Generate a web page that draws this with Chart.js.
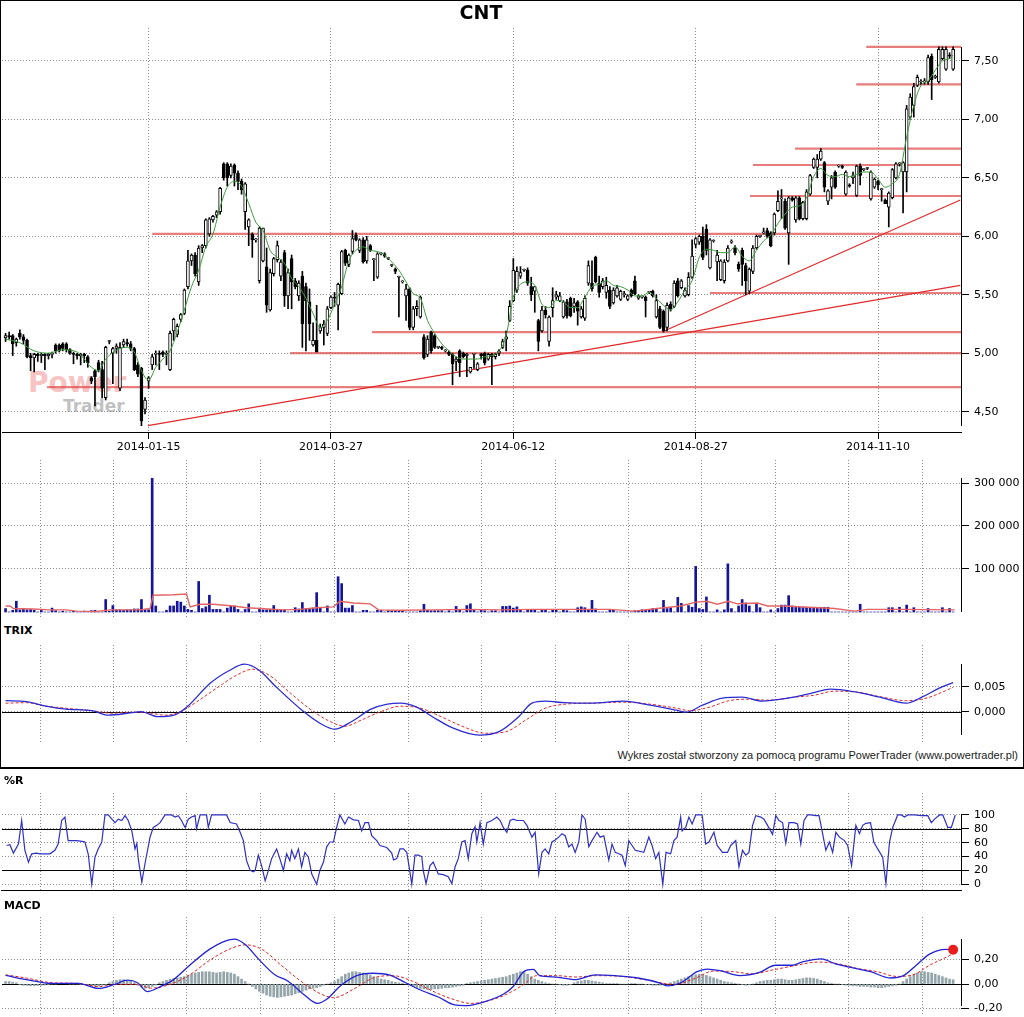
<!DOCTYPE html>
<html>
<head>
<meta charset="utf-8">
<title>CNT</title>
<script src="https://cdn.jsdelivr.net/npm/chart.js@4.4.1/dist/chart.umd.min.js"></script>
<style>
  html, body { margin: 0; padding: 0; background: #fff; }
  #page { position: relative; width: 1024px; height: 1017px; overflow: hidden; font-family: "DejaVu Sans", Verdana, sans-serif; }
  canvas { position: absolute; left: 0; z-index: 2; }
  .txt { position: absolute; z-index: 3; color: #000; white-space: nowrap; }
  .lab { font-weight: bold; font-size: 11px; left: 4px; }
  #frame { position: absolute; left: 0; top: 0; width: 1022px; height: 767px; border: 1px solid #000; border-bottom: none; z-index: 1; }
  #sep { position: absolute; left: 0; top: 767px; width: 1024px; height: 2px; background: #000; z-index: 3; }
  .wm { position: absolute; z-index: 1; font-weight: bold; white-space: nowrap; }
</style>
</head>
<body>
<div id="page">
  <div id="frame"></div>
  <div class="wm" style="left:28px;top:366px;font-size:28px;color:rgba(240,120,120,0.45);">Power</div>
  <div class="wm" style="left:63px;top:396px;font-size:17px;color:rgba(140,140,140,0.55);">Trader</div>
  <div class="txt" style="left:0;width:962px;text-align:center;top:1px;font-size:19px;font-weight:bold;">CNT</div>
  <div class="txt lab" style="top:624px;">TRIX</div>
  <div class="txt lab" style="top:774px;">%R</div>
  <div class="txt lab" style="top:899px;">MACD</div>
  <div class="txt" style="right:6px;top:749px;font-size:11px;font-family:'Liberation Sans',Arial,sans-serif;color:#222;">Wykres został stworzony za pomocą programu PowerTrader (www.powertrader.pl)</div>
  <div id="sep"></div>
  <canvas id="cPrice"></canvas>
  <canvas id="cVol"></canvas>
  <canvas id="cTrix"></canvas>
  <canvas id="cWr"></canvas>
  <canvas id="cMacd"></canvas>
</div>
<script>
// x axis: one unit per session, index 0 = first candle
const X_MIN = -1, X_MAX = 267.2;
const dateLabels = ['2014-01-15', '2014-03-27', '2014-06-12', '2014-08-27', '2014-11-10'];
const dateIdx = [40, 91, 142, 193, 244];
const lowerGrid = [9.8, 30.3, 50.7, 71.4, 92.1, 112.6, 133, 153.7, 174.1, 194.5, 215.2, 235.6, 256.3];

const opens = [
  5.13,5.15,5.15,5.09,5.17,5.14,5.11,4.98,4.96,4.99, 4.98,4.99,4.98,4.99,5.07,5.07,5.08,5.08,5.03,5.00,
  4.99,4.98,4.99,4.97,4.79,4.85,4.92,4.86,4.62,5.10, 5.00,5.04,4.70,5.07,5.09,5.08,5.04,4.90,4.87,4.52,
  4.76,4.90,4.99,5.00,5.01,4.99,4.86,5.19,5.16,5.29, 5.34,5.57,5.79,5.84,5.61,5.90,5.92,6.02,6.14,6.18,
  6.21,6.62,6.62,6.52,6.61,6.54,6.47,6.21,6.08,6.02, 5.97,5.62,5.79,5.74,5.37,5.68,5.80,5.66,5.86,5.49,
  5.81,5.62,5.49,5.66,5.57,5.44,5.07,5.11,5.19,5.22, 5.17,5.39,5.48,5.41,5.51,5.88,5.76,5.87,6.01,5.88,
  5.97,5.79,5.92,5.80,5.65,5.85,5.85,5.81,5.75,5.72, 5.65,5.61,5.49,5.55,5.22,5.38,5.31,5.14,4.99,5.18,
  5.15,5.05,5.05,5.02,5.01,4.99,4.93,5.02,5.00,4.98, 4.84,4.99,4.86,4.99,5.00,4.95,4.99,4.97,5.00,5.05,
  5.12,5.28,5.45,5.54,5.66,5.71,5.71,5.57,5.53,5.28, 5.19,5.37,5.10,5.39,5.48,5.45,5.31,5.44,5.47,5.40,
  5.44,5.31,5.30,5.60,5.60,5.82,5.60,5.57,5.52,5.54, 5.43,5.49,5.46,5.50,5.46,5.54,5.62,5.47,5.48,5.48,
  5.52,5.53,5.31,5.38,5.36,5.22,5.42,5.40,5.62,5.56, 5.49,5.50,5.65,5.93,5.95,6.00,6.06,5.73,5.96,5.78,
  5.63,5.62,5.79,5.95,5.90,5.76,5.88,5.75,5.53,5.70, 5.90,6.00,6.03,6.05,6.03,6.03,6.22,6.32,6.30,6.03,
  6.33,6.14,6.33,6.15,6.15,6.36,6.59,6.59,6.66,6.63, 6.30,6.42,6.55,6.60,6.60,6.36,6.44,6.50,6.35,6.60,
  6.57,6.58,6.32,6.42,6.47,6.40,6.31,6.25,6.33,6.50, 6.62,6.55,6.55,7.02,7.12,7.29,7.32,7.32,7.32,7.54,
  7.36,7.32,7.52,7.43,7.55,7.43
];
const highs = [
  5.17,5.18,5.16,5.13,5.20,5.16,5.12,5.00,5.00,5.00, 5.00,5.00,5.00,5.01,5.08,5.08,5.09,5.09,5.04,5.01,
  5.00,5.00,5.00,4.98,4.80,4.86,4.94,4.93,5.06,5.11, 5.05,5.08,5.09,5.12,5.12,5.10,5.05,4.92,4.88,4.62,
  4.80,4.99,5.02,5.02,5.02,5.02,5.19,5.30,5.25,5.34, 5.55,5.88,5.85,5.86,5.92,5.93,6.15,6.16,6.18,6.22,
  6.42,6.63,6.63,6.62,6.62,6.56,6.49,6.46,6.15,6.03, 5.98,6.08,6.07,5.90,5.72,5.82,5.96,5.80,5.88,5.72,
  5.84,5.64,5.62,5.70,5.60,5.55,5.26,5.41,5.25,5.28, 5.40,5.49,5.52,5.60,5.88,5.89,5.85,6.05,6.03,5.98,
  5.99,6.00,5.93,5.81,5.86,5.86,5.86,5.82,5.76,5.73, 5.66,5.62,5.59,5.56,5.40,5.45,5.49,5.16,5.15,5.19,
  5.16,5.06,5.06,5.03,5.02,5.00,4.97,5.03,5.01,5.00, 4.88,5.00,4.92,5.00,5.01,5.00,5.00,5.00,5.03,5.12,
  5.19,5.45,5.81,5.74,5.74,5.72,5.73,5.65,5.57,5.29, 5.40,5.40,5.32,5.56,5.53,5.52,5.45,5.46,5.48,5.47,
  5.45,5.40,5.49,5.79,5.79,5.83,5.66,5.64,5.65,5.57, 5.56,5.58,5.54,5.53,5.50,5.55,5.66,5.50,5.49,5.49,
  5.53,5.54,5.50,5.40,5.37,5.43,5.44,5.62,5.64,5.63, 5.56,5.69,5.97,5.99,6.01,6.08,6.10,5.98,5.97,5.88,
  5.80,5.80,5.92,5.97,5.92,5.78,5.90,5.77,5.73,5.92, 6.01,6.01,6.07,6.07,6.04,6.20,6.39,6.40,6.32,6.34,
  6.34,6.34,6.34,6.30,6.40,6.53,6.67,6.70,6.75,6.64, 6.40,6.52,6.56,6.61,6.61,6.56,6.45,6.55,6.61,6.62,
  6.58,6.59,6.56,6.50,6.48,6.41,6.32,6.38,6.58,6.63, 6.63,6.64,7.12,7.22,7.31,7.38,7.34,7.35,7.55,7.56,
  7.38,7.62,7.62,7.62,7.57,7.62
];
const lows = [
  5.10,5.12,4.98,5.06,5.12,5.08,4.96,4.85,4.84,4.93, 4.92,4.86,4.95,4.96,5.00,5.01,5.02,5.01,4.99,4.91,
  4.95,4.90,4.92,4.88,4.74,4.55,4.84,4.62,4.60,5.08, 4.74,5.00,4.68,5.05,5.06,5.02,4.85,4.80,4.38,4.48,
  4.70,4.86,4.90,4.86,4.97,4.90,4.85,5.11,5.14,5.27, 5.33,5.55,5.75,5.66,5.58,5.86,5.90,6.00,6.12,6.16,
  6.19,6.48,6.43,6.50,6.43,6.40,6.36,6.06,5.92,5.82, 5.95,5.60,5.78,5.35,5.36,5.66,5.78,5.62,5.40,5.38,
  5.38,5.55,5.45,5.05,5.02,5.11,5.06,5.01,5.17,5.07, 5.15,5.38,5.40,5.20,5.50,5.75,5.74,5.85,5.96,5.86,
  5.77,5.77,5.87,5.62,5.64,5.84,5.82,5.80,5.74,5.68, 5.31,5.60,5.28,5.20,5.20,5.32,5.30,4.95,4.97,5.00,
  5.04,5.04,5.03,5.01,4.98,4.73,4.85,4.80,4.96,4.80, 4.83,4.87,4.85,4.95,4.90,4.94,4.73,4.95,4.98,5.04,
  5.02,5.27,5.44,5.52,5.64,5.70,5.58,5.45,5.35,5.02, 5.18,5.30,5.06,5.31,5.46,5.44,5.30,5.30,5.31,5.35,
  5.24,5.30,5.28,5.58,5.53,5.60,5.48,5.55,5.47,5.38, 5.42,5.48,5.45,5.48,5.45,5.48,5.50,5.46,5.47,5.31,
  5.51,5.48,5.30,5.21,5.18,5.19,5.36,5.39,5.48,5.55, 5.48,5.49,5.64,5.90,5.93,5.80,5.84,5.72,5.95,5.62,
  5.62,5.60,5.78,5.94,5.84,5.70,5.58,5.50,5.51,5.68, 5.89,5.99,6.02,5.99,5.91,6.01,6.21,6.15,6.06,5.76,
  6.30,6.12,6.14,6.14,6.14,6.35,6.58,6.50,6.65,6.38, 6.27,6.32,6.41,6.59,6.58,6.35,6.42,6.45,6.34,6.44,
  6.56,6.57,6.31,6.41,6.40,6.30,6.28,6.08,6.32,6.49, 6.60,6.20,6.38,7.00,7.02,7.28,7.30,7.30,7.30,7.17,
  7.35,7.31,7.51,7.42,7.52,7.42
];
const closes = [
  5.15,5.14,5.08,5.12,5.14,5.11,4.97,4.96,4.99,4.98, 4.99,4.98,4.99,5.00,5.02,5.02,5.04,5.03,5.00,4.99,
  4.98,4.99,4.98,4.92,4.76,4.80,4.86,4.70,5.05,5.10, 5.04,5.06,5.05,5.10,5.08,5.04,4.86,4.82,4.42,4.60,
  4.79,4.97,5.00,4.99,4.99,5.00,5.17,5.29,5.23,5.33, 5.54,5.79,5.84,5.68,5.90,5.92,6.14,6.15,6.17,6.21,
  6.41,6.50,6.50,6.60,6.54,6.47,6.40,6.45,6.14,5.97, 5.97,6.07,6.07,5.41,5.69,5.81,5.92,5.78,5.49,5.69,
  5.61,5.57,5.60,5.25,5.45,5.25,5.11,5.01,5.22,5.25, 5.38,5.48,5.47,5.59,5.87,5.77,5.84,5.98,5.97,5.97,
  5.78,5.97,5.88,5.80,5.85,5.85,5.83,5.81,5.75,5.70, 5.65,5.61,5.55,5.22,5.38,5.40,5.48,4.96,5.12,5.02,
  5.05,5.05,5.04,5.02,4.99,4.91,4.95,4.92,4.97,4.99, 4.88,4.99,4.91,4.98,4.92,4.99,4.97,4.99,5.02,5.10,
  5.14,5.40,5.71,5.70,5.69,5.71,5.60,5.50,5.57,5.10, 5.37,5.33,5.31,5.45,5.50,5.49,5.44,5.32,5.32,5.43,
  5.36,5.38,5.47,5.75,5.55,5.61,5.52,5.62,5.58,5.40, 5.54,5.56,5.53,5.51,5.49,5.49,5.51,5.49,5.48,5.45,
  5.52,5.49,5.45,5.22,5.19,5.41,5.38,5.60,5.49,5.62, 5.54,5.65,5.83,5.98,6.00,5.82,5.88,5.97,5.96,5.84,
  5.79,5.78,5.90,5.96,5.86,5.72,5.76,5.62,5.72,5.90, 6.00,6.00,6.03,6.00,5.92,6.19,6.30,6.32,6.07,6.33,
  6.31,6.33,6.15,6.29,6.38,6.52,6.66,6.66,6.73,6.42, 6.39,6.50,6.42,6.60,6.59,6.55,6.43,6.52,6.60,6.52,
  6.57,6.58,6.55,6.49,6.44,6.40,6.28,6.37,6.57,6.62, 6.62,6.63,7.09,7.19,7.28,7.36,7.32,7.33,7.53,7.34,
  7.36,7.60,7.60,7.60,7.54,7.60
];

// green moving average on price, read every two sessions
const greenIdx = [0,4,8,12,16,20,24,26,28,32,34,36,38,40,42,44,46,48,50,52,54,56,58,60,62,64,66,68,70,72,74,76,78,80,82,84,86,88,90,92,94,96,98,100,
  102,104,106,108,110,112,114,116,118,120,122,124,126,128,130,132,134,136,138,140,142,144,146,148,150,152,154,156,158,160,162,164,166,168,170,172,174,176,178,180,
  182,184,186,188,190,192,194,196,198,200,202,204,206,208,210,212,214,216,218,220,222,224,226,228,230,232,234,236,238,240,242,244,246,248,250,252,254,256,258,260,262,264,265];
const greenVal = [5.12,5.09,5.02,5.00,5.03,5.01,4.88,4.85,4.95,5.04,5.05,5.01,4.85,4.77,4.88,4.95,5.02,5.18,5.37,5.57,5.71,5.91,6.02,6.25,6.42,6.47,6.43,6.28,6.12,6.05,5.88,5.82,5.77,5.64,5.57,5.47,5.34,5.22,5.28,5.42,5.57,5.79,5.88,5.91,
  5.88,5.87,5.84,5.78,5.71,5.61,5.51,5.47,5.28,5.17,5.08,5.02,4.97,4.95,4.95,4.95,4.97,4.98,5.02,5.15,5.48,5.59,5.61,5.58,5.42,5.39,5.45,5.44,5.39,5.39,5.48,5.57,5.59,5.62,5.58,5.57,5.54,5.49,5.49,5.52,
  5.47,5.41,5.37,5.44,5.54,5.62,5.82,5.89,5.88,5.86,5.86,5.91,5.83,5.79,5.88,5.96,6.01,6.11,6.19,6.25,6.26,6.33,6.51,6.58,6.52,6.51,6.53,6.51,6.53,6.55,6.55,6.49,6.42,6.45,6.53,6.85,7.12,7.29,7.33,7.42,7.50,7.52,7.55];

// support / resistance levels and trend lines
const levelPrice = [7.62, 7.30, 6.75, 6.61, 6.345, 6.02, 5.515, 5.18, 5.00, 4.71];
const levelFrom = [240.7, 237.9, 220.8, 209, 208.2, 41, 197, 102.5, 79.6, 11.6];
const trendFromIdx = [39.8, 184.2], trendFromVal = [4.38, 5.19];
const trendToIdx = [267, 267], trendToVal = [5.58, 6.31];

// volume, thousands of shares
const vol = [
  8,0,4,25,5,6,5,6,4,0, 4,0,0,9,3,0,2,0,0,2, 0,0,2,0,3,4,0,0,29,2, 15,5,5,4,5,5,7,7,29,6,
  5,311,14,0,0,4,14,14,25,23, 14,6,4,0,71,8,12,39,6,6, 6,0,9,14,14,6,0,6,19,0, 0,6,5,5,6,15,6,5,5,0,
  0,10,7,22,8,8,9,45,11,0, 14,0,0,82,66,9,9,15,0,0, 4,4,0,0,4,4,0,3,3,3, 3,3,0,0,0,0,3,18,4,3,
  3,3,3,0,3,0,13,5,0,15, 19,6,0,4,3,0,3,3,0,13, 13,14,9,12,6,0,5,5,5,0, 4,4,0,4,4,0,4,3,0,0,
  10,12,10,6,27,7,0,0,0,4, 4,0,0,0,0,0,3,3,5,5, 6,8,8,0,27,8,10,0,34,20, 0,15,11,106,8,6,35,0,0,5,
  0,5,112,8,0,14,29,21,14,0, 18,10,0,0,5,0,8,16,16,38, 14,11,11,11,11,11,11,11,11,11, 11,0,0,0,0,0,0,0,0,18,
  0,0,0,0,0,0,0,10,10,0, 11,0,16,0,10,0,0,0,8,0, 0,0,10,0,8,0
];
const volMaIdx = [0,1.2,2.2,7.7,12.4,17,19.9,25.5,29.2,37.6,40.4,41.3,46.9,50.6,51.6,54.4,58.1,63.7,67.4,71.2,77.7,82.3,87,91.7,93.5,97.3,102,104.3,110.3,119.6,
  129,138.3,147.6,169.1,175.7,182.2,188.8,193.1,196.2,199,202.2,204.6,210.3,213.1,217.7,224.3,231.8,237.4,241.1,250.5,265.4];
const volMa = [14,14,8,7,5,5,2,1,5,5,8,39,40,42,12,18,18,14,10,8,5,6,10,12,25,21,19,5,4,5,
  6,5,6,6,2,8,14,23,25,18,25,19,21,14,14,11,8,2,6,6,5];

// TRIX and its signal
const trixIdx = [0,5.8,11.3,16.8,24.2,28.7,35.2,37.9,42.5,47.1,50.8,57.2,62.7,66.8,70.9,75.6,82.9,88.4,92.1,96.7,102.2,106.8,110.5,115,119.6,125.2,132.5,138,143.5,147.2,
  150.9,156.4,163.7,172.9,180.3,187.6,190.3,194.9,200.5,206,211.5,218.8,224.3,230.8,237.2,244.5,251.9,256.5,261.1,265];
const trixVal = [0.0022,0.002,0.0011,0.0005,0.0002,-0.0007,-0.0002,0,-0.001,-0.0007,0.001,0.0057,0.0083,0.0095,0.0083,0.005,0.0003,-0.0025,-0.0035,-0.002,
  0.0005,0.0015,0.0017,0.0009,-0.0011,-0.0033,-0.0047,-0.004,-0.001,0.0017,0.0021,0.0018,0.0017,0.0021,0.0013,0.0003,-0.0001,0.0013,0.0027,0.0029,
  0.0021,0.0027,0.0035,0.0045,0.004,0.0029,0.0017,0.003,0.0047,0.0058];
const trixSigIdx = [0,5.8,11.3,16.8,24.2,29.7,35.2,40.7,44.4,48.9,53.5,59,64.6,69.1,73.7,79.2,84.8,90.3,94.9,99.4,104.9,110.5,116,121.5,127,134.3,139.9,145.4,150.9,156.4,
  163.7,172.9,180.3,187.6,191.3,196.8,202.3,207.8,213.3,220.6,226.2,231.7,237.2,244.5,251.9,257.4,262.9,265];
const trixSig = [0.0017,0.0018,0.0011,0.0007,0.0002,-0.0003,-0.0001,-0.0003,-0.0007,0,0.002,0.0047,0.0073,0.0085,0.0073,0.004,0.0007,-0.0018,-0.0029,-0.0017,
  0,0.0011,0.0007,-0.0009,-0.0027,-0.0043,-0.004,-0.0017,0.0007,0.0015,0.0017,0.0019,0.0015,0.0007,0.0002,0.0009,0.0022,0.0025,0.0023,0.0029,
  0.0033,0.0041,0.004,0.003,0.0022,0.0027,0.0042,0.0049];

// Williams %R
const wrIdx = [0.3,1.2,2.2,3.6,4.5,5.4,6.4,7.3,8.7,9.6,12.4,13.8,14.7,15.7,16.6,17.5,19.9,21.3,22.2,23.1,24.1,25,25.9,26.9,27.8,28.7,30.6,31.5,32.5,33.4,
  34.3,35.3,36.2,36.7,37.1,38.1,39,40.4,41.3,42.3,43.2,44.6,46.4,47.4,48.3,49.2,50.2,51.1,52,53,53.4,54.4,55.3,56.2,56.7,57.6,61.8,62.8,64.6,65.6,
  66.5,67.4,68.4,69.3,69.8,70.7,71.6,72.6,73.5,74.4,75.8,76.7,77.7,78.6,79.5,80,80.9,81.9,82.8,83.7,84.7,85.6,87,87.9,88.9,89.8,90.7,91.7,92.6,93.5,
  94.9,95.9,97.3,98.7,99.6,100.5,101.5,102.4,103.8,104.7,106.6,108,108.5,109.4,110.3,111.3,112.2,112.9,113.6,114.5,115.4,116.4,116.8,117.6,118.7,119.6,121,122.4,123.8,124.8,
  125.7,126.6,127.6,128.5,129.4,130.4,131.3,131.8,132.7,133.6,134.6,136,137.4,
  138.3,139.2,140.2,141.1,142,143,144.8,145.8,147.2,148.1,149.1,150,150.9,151.9,152.8,153.7,154.7,155.6,156.5,157.5,158.4,159.3,160.3,161.2,162.1,163.1,164,165.4,166.3,167.3,
  168.7,169.6,170.5,171.5,172.4,173.3,174.3,175.2,176.1,178.5,179.9,180.8,181.8,182.7,183.8,184.7,186,186.9,187.8,188.8,189.2,190.2,191.1,192,193,194.8,195.8,196.7,198.1,199,
  200.5,201.9,202.8,204.2,205.1,206.1,207,207.9,208.9,209.8,211.2,212.1,213.1,214.5,215.4,216.3,217.3,218.2,219.1,220.5,221.5,222.4,223.3,224.3,225.2,226.6,227.5,228.5,229.4,230.4,
  231.3,232.2,233.2,234.6,235.5,236.6,237.8,238.8,239.7,240.6,241.9,242.8,243.9,245.3,246.2,247.2,248.1,249.5,250.5,251.4,252.3,254.2,256.1,257.9,258.9,259.8,261.2,262.1,263.5,264.5,
  265.6];
const wrVal = [56,57,45,58,92,49,32,44,45,44,44,49,58,92,97,63,63,62,61,44,0,39,51,61,100,100,89,94,92,99,
  92,77,51,59,37,3,30,68,82,85,89,100,100,97,99,92,82,94,97,99,80,100,100,100,82,100,100,89,87,75,
  63,34,20,18,20,42,27,5,20,37,51,37,20,44,34,49,37,51,25,46,39,15,0,20,32,54,61,61,82,100,
  87,97,93,92,77,89,89,70,63,56,53,45,35,37,51,51,46,24,0,42,42,40,20,1,27,32,15,14,11,1,
  25,37,61,63,37,73,83,61,89,58,89,92,97,
  92,82,75,92,94,92,92,85,68,75,15,46,51,44,61,64,68,73,70,54,58,46,61,100,94,54,63,75,68,70,
  35,58,46,44,42,27,63,56,49,46,68,56,37,46,0,46,44,63,68,97,77,82,97,87,100,100,58,61,75,56,
  46,46,56,63,25,49,42,46,85,99,97,94,85,72,99,92,89,59,89,89,87,58,92,100,100,99,99,73,49,61,
  46,75,68,63,56,27,85,73,85,88,89,61,51,39,1,61,82,100,100,97,100,100,99,99,89,94,100,100,82,82,
  100];

// MACD, signal and histogram
const macdIdx = [0,5.8,13,20.4,25.9,30.5,34.1,36.9,39.6,43.3,47,51.5,57,61.6,64,67.1,70.7,75.3,79,83.5,87.2,90,93.6,98.2,102.8,107.3,111.9,116.5,121,125.6,
  128.4,133.9,139.4,142.1,144.9,147.6,149.4,154,159.5,165,170.5,176.9,183.3,185.1,188.8,193.4,196.1,199.8,205.3,210.8,215.3,219.9,222.7,228.2,231.9,236.4,241.9,247.4,251.1,254.7,
  258.4,262.9,265];
const macdVal = [0.07,0.036,0.005,0.005,-0.036,-0.003,0.031,0.01,-0.062,-0.021,0.036,0.153,0.283,0.353,0.366,0.32,0.205,0.075,0.023,-0.088,
  -0.158,-0.12,-0.016,0.068,0.088,0.075,0.01,-0.055,-0.106,-0.171,-0.177,-0.145,-0.08,-0.016,0.101,0.119,0.068,0.057,0.036,0.075,
  0.068,0.049,0.005,-0.016,0.01,0.101,0.122,0.109,0.068,0.094,0.153,0.153,0.179,0.205,0.166,0.135,0.101,0.049,0.068,0.153,
  0.244,0.283,0.28];
const macdSigIdx = [0,5.8,13.1,20.4,25.9,31.4,36.9,40.5,46,51.5,57,62.5,67.1,71.7,77.1,82.6,88.1,91.8,97.3,102.8,108.3,113.8,119.2,124.7,130.2,135.7,141.2,144.9,148.5,154,
  159.5,165,172.3,179.7,187,192.5,198,203.4,208.9,214.4,219.9,227.2,232.7,238.2,243.7,249.2,253.8,258.4,263.9,265];
const macdSig = [0.075,0.049,0.01,0.005,-0.021,-0.003,-0.003,-0.034,-0.003,0.075,0.192,0.283,0.32,0.283,0.153,0.023,-0.08,-0.112,-0.042,0.049,
  0.068,0.023,-0.055,-0.12,-0.158,-0.132,-0.068,-0.003,0.068,0.068,0.057,0.068,0.062,0.031,-0.003,0.042,0.106,0.101,0.083,0.114,
  0.145,0.179,0.166,0.127,0.101,0.062,0.075,0.153,0.231,0.25];
const macdHist = [
  0.02,0.02,0.015,0.01, -0.005,-0.01,-0.012,-0.015,-0.015,-0.012,-0.01,-0.008,-0.005,
  0,0,0.003,0.003,0.002,0,0,0,-0.003,-0.005, -0.01,-0.015,-0.018,-0.015,-0.01,-0.004,
  0.01,0.02,0.03,0.035,0.035,0.03,0.025,0.01, -0.01,-0.025,-0.035,-0.03,-0.02,-0.01,
  0.01,0.02,0.03,0.04,0.045,0.05,0.055,0.06, 0.07,0.08,0.09,0.095,0.1,0.1,0.1,0.095,0.09,0.095,0.1,0.095,0.09,0.08,
  0.06,0.04,0.02,0, -0.02,-0.04,-0.06,-0.075,-0.09,-0.1,-0.105,-0.11,-0.105,-0.1,-0.095,-0.09,-0.08,-0.07,-0.06,-0.05,-0.04,
  -0.035,-0.03,-0.02,-0.01,0,0.01,0.02, 0.04,0.06,0.08,0.09,0.1,0.1,0.095,0.09,0.08,0.07,0.06,0.05,
  0.04,0.035,0.03,0.02,0.015,0.01,0.005,0,
  -0.01,-0.02,-0.03,-0.035,-0.04,-0.045,-0.045,-0.04,-0.04,-0.035,-0.03,-0.03,-0.025,-0.02,-0.015,-0.01,
  0.005,0.01,0.015,0.02,0.025,0.03,0.035,0.04,0.045,0.05,0.055,0.06,0.07,0.08,0.09,0.1,0.1,
  0.08,0.06,0.04,0.03,0.02,0.01,0.005, 0,0,-0.005,-0.01,-0.01,-0.005,
  0.01,0.02,0.025,0.03,0.03,0.025,0.02,0.015,0.01,0.005,
  0.005,0.005,0.005,0,0,0,0.005,0.005,0,0,-0.005,-0.005,-0.01,
  -0.01,-0.01,-0.005,0,0.01,0.02,0.03,0.04,
  0.05,0.06,0.07,0.075,0.08,0.075,0.07,0.06,0.05,0.04,0.03,0.02,
  0.015,0.01,0.005,0,-0.005,-0.01,-0.005,0,0.01,0.02,
  0.025,0.03,0.03,0.035,0.04,0.04,0.035,0.03,0.03,0.035,0.04,0.045,0.05,0.05,0.045,0.04,
  0.03,0.02,0.01,0.005,0,0,
  -0.005,-0.01,-0.01,-0.015,-0.015,-0.02,-0.02,-0.02,-0.025,-0.025,-0.03,-0.03,-0.025,-0.02,-0.015,-0.01,0,
  0.02,0.04,0.06,0.08,0.09,0.1,0.1,0.095,0.09,0.08,0.07,0.06,0.05,0.04,0.035
];

const priceTicks = [4.5, 5, 5.5, 6, 6.5, 7, 7.5];
const volTicks = [100, 200, 300];
const trixTicks = [0, 0.005];
const wrTicks = [0, 20, 40, 60, 80, 100];
const macdTicks = [-0.2, 0, 0.2];

const FONT = { family: 'DejaVu Sans', size: 11 };
const GRID = '#8c8c8c';
const comma = d => v => v.toFixed(d).replace('.', ',');

function pts(xs, ys) {
  return xs.map((x, i) => ({ x, y: ys[i] }));
}

function xAxis(tickVals, labels, borderWidth) {
  const show = !!labels;
  return {
    type: 'linear', min: X_MIN, max: X_MAX, offset: false,
    afterBuildTicks: s => { s.ticks = tickVals.map(v => ({ value: v })); },
    afterFit: s => { s.height = show ? 28 : 0; s.paddingLeft = 0; s.paddingRight = 0; },
    grid: { offset: false, color: GRID, lineWidth: 1, drawTicks: show, tickLength: 7, tickColor: '#000' },
    border: { display: true, color: '#000', width: borderWidth || 1, dash: [1, 2] },
    ticks: { display: show, autoSkip: false, maxRotation: 0, padding: 2, color: '#000', font: FONT,
      callback: (v, i) => (labels ? labels[i] : '') }
  };
}

function yAxis(min, max, tickVals, fmt) {
  return {
    type: 'linear', position: 'right', min, max,
    afterBuildTicks: s => { s.ticks = tickVals.map(v => ({ value: v })); },
    // fixed width, and no extra room reserved for the end labels
    afterFit: s => { s.width = 63; s.paddingTop = 0; s.paddingBottom = 0; },
    grid: { color: GRID, lineWidth: 1, drawTicks: true, tickLength: 8, tickColor: '#000' },
    border: { display: false, dash: [1, 2] },
    ticks: { autoSkip: false, padding: 5, color: '#000', font: FONT, callback: v => fmt(v) }
  };
}

// solid reference lines and the right axis line spanning the data range
const panelLines = {
  id: 'panelLines',
  beforeDatasetsDraw(chart, args, opts) {
    const { ctx, chartArea: a, scales: { y } } = chart;
    ctx.save();
    (opts.refs || []).forEach(v => {
      const py = Math.round(y.getPixelForValue(v)) + 0.5;
      ctx.strokeStyle = '#000';
      ctx.lineWidth = 1;
      ctx.beginPath(); ctx.moveTo(a.left, py); ctx.lineTo(a.right, py); ctx.stroke();
    });
    ctx.restore();
  },
  afterDraw(chart, args, opts) {
    if (!opts.span) return;
    const { ctx, chartArea: a, scales: { y } } = chart;
    const x = a.right + 0.5;
    ctx.save();
    ctx.strokeStyle = '#000';
    ctx.lineWidth = 1;
    ctx.beginPath();
    ctx.moveTo(x, Math.round(y.getPixelForValue(opts.span[1])));
    ctx.lineTo(x, Math.round(y.getPixelForValue(opts.span[0])));
    ctx.stroke();
    ctx.restore();
  }
};

function panel(id, top, height, padTop, datasets, x, y, lines) {
  const cv = document.getElementById(id);
  cv.style.top = top + 'px';
  cv.width = 1024;
  cv.height = height;
  return new Chart(cv, {
    type: 'bar',
    data: { datasets },
    options: {
      responsive: false, animation: false, devicePixelRatio: 1,
      layout: { autoPadding: false, padding: { left: 2, right: 0, top: padTop, bottom: 0 } },
      plugins: { legend: { display: false }, tooltip: { enabled: false }, panelLines: lines },
      scales: { x, y }
    },
    plugins: [panelLines]
  });
}

function line(xs, ys, color, width, dash, order, smooth) {
  return {
    type: 'line', data: pts(xs, ys), borderColor: color, borderWidth: width, borderDash: dash || [],
    pointRadius: 0, fill: false, order,
    cubicInterpolationMode: smooth ? 'monotone' : 'default', tension: smooth ? 0.4 : 0
  };
}

const idx = closes.map((_, i) => i);

// price panel
const priceSets = [
  line(greenIdx, greenVal, '#3b9a3b', 1, null, 1, true),
  {
    type: 'bar', data: idx.map(i => ({ x: i, y: [opens[i], closes[i]] })),
    backgroundColor: idx.map(i => (closes[i] >= opens[i] ? '#fff' : '#000')),
    borderColor: '#000', borderWidth: 1, borderSkipped: false,
    barThickness: 3, minBarLength: 1, grouped: false, order: 2
  },
  {
    type: 'bar', data: idx.map(i => ({ x: i, y: [lows[i], highs[i]] })),
    backgroundColor: '#000', barThickness: 1, grouped: false, order: 3
  }
];
trendFromIdx.forEach((x0, k) => {
  priceSets.push(line([x0, trendToIdx[k]], [trendFromVal[k], trendToVal[k]], '#e22a2a', 1.2, null, 4));
});
levelPrice.forEach((p, k) => {
  priceSets.push(line([levelFrom[k], X_MAX], [p, p], 'rgba(222,70,70,0.7)', 2.2, null, 5));
});
panel('cPrice', 0, 460, 28, priceSets, xAxis(dateIdx, dateLabels), yAxis(4.326, 7.782, priceTicks, comma(2)),
  { span: [Math.min(...lows), Math.max(...highs)] });

// volume panel
panel('cVol', 460, 159, 0, [
  line(volMaIdx, volMa, '#e46464', 1.4, null, 1),
  { type: 'bar', data: vol.map((v, i) => ({ x: i, y: v })), backgroundColor: '#14149c', barThickness: 2, grouped: false, order: 2 }
], xAxis(lowerGrid), yAxis(-16.3, 353.5, volTicks, v => v + ' 000'), { span: [0, Math.max(...vol)] });

// TRIX panel
const trixAll = trixVal.concat(trixSig);
panel('cTrix', 645, 97, 0, [
  line(trixIdx, trixVal, '#2b2bd2', 1.3, null, 1, true),
  line(trixSigIdx, trixSig, '#e02a2a', 1, [3, 2], 2, true)
], xAxis(lowerGrid), yAxis(-0.00606, 0.01334, trixTicks, comma(3)),
  { refs: [0], span: [Math.min(...trixAll), Math.max(...trixAll)] });

// %R panel
panel('cWr', 793, 98, 0, [
  line(wrIdx, wrVal, '#2f2fc4', 1.2, null, 1)
], xAxis(lowerGrid, null, 3), yAxis(-9.7, 131.7, wrTicks, v => String(v)), { refs: [20, 80], span: [0, 100] });

// MACD panel
const macdAll = macdVal.concat(macdSig);
const lastMacd = macdVal.length - 1;
panel('cMacd', 917, 98, 0, [
  { type: 'line', data: [{ x: macdIdx[lastMacd], y: macdVal[lastMacd] }], showLine: false, pointRadius: 5,
    pointBackgroundColor: '#e81c1c', pointBorderWidth: 0, order: 0 },
  line(macdIdx, macdVal, '#2323d4', 1.3, null, 1, true),
  line(macdSigIdx, macdSig, '#e02222', 1, [3, 2], 2, true),
  { type: 'bar', data: macdHist.map((v, i) => ({ x: i, y: v })), backgroundColor: '#94a5aa', barThickness: 2, grouped: false, order: 3 }
], xAxis(lowerGrid), yAxis(-0.253, 0.547, macdTicks, comma(2)),
  { refs: [0], span: [Math.min(...macdAll), Math.max(...macdAll)] });
</script>
</body>
</html>
